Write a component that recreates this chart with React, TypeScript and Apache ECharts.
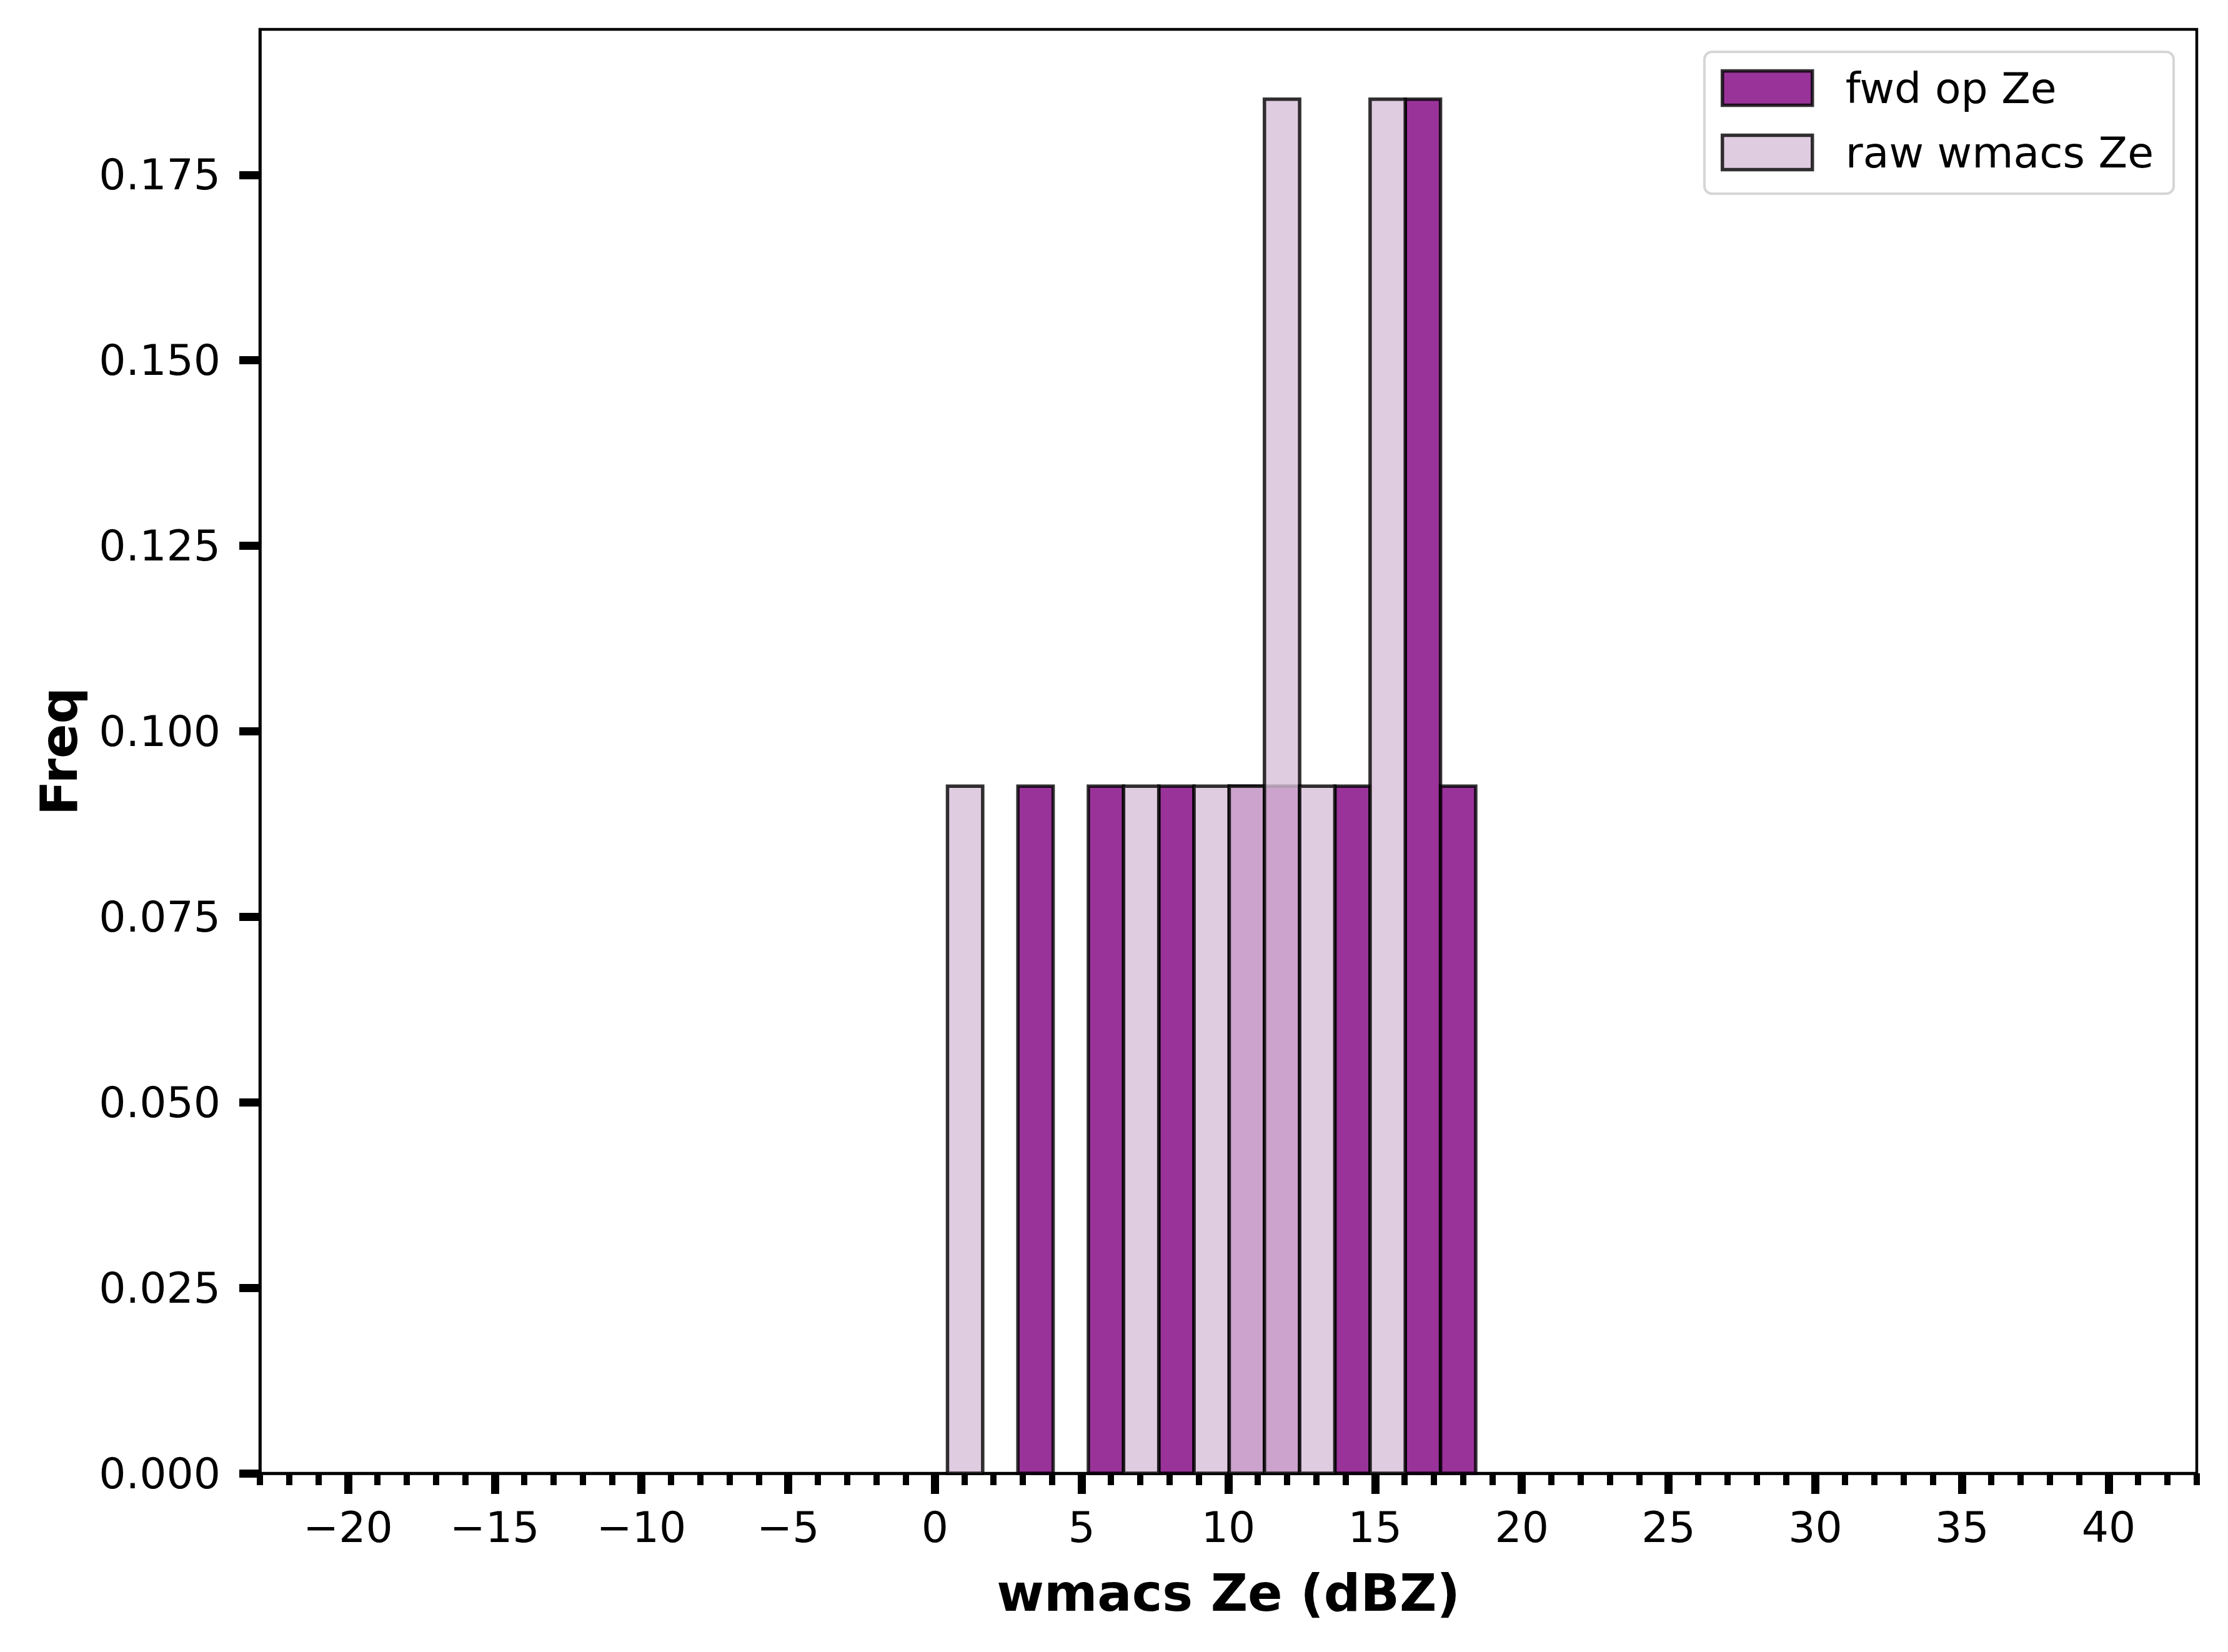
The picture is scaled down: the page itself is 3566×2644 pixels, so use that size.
import React, { useEffect, useRef } from "react";
import * as echarts from "echarts";

// Histogram bins (left edge, dBZ) and normalized frequencies
const binWidth = 1.2;
const fwdBinLeft = [2.83, 5.23, 7.63, 10.03, 11.23, 13.63, 16.03, 17.23];
const fwdFreq = [0.0926, 0.0926, 0.0926, 0.0926, 0.0926, 0.0926, 0.1852, 0.0926];
const rawBinLeft = [0.43, 6.43, 8.83, 10.03, 11.23, 12.43, 14.83];
const rawFreq = [0.0926, 0.0926, 0.0926, 0.0926, 0.1852, 0.0926, 0.1852];

const xMajorTicks = [-20, -15, -10, -5, 0, 5, 10, 15, 20, 25, 30, 35, 40];
const xMinorTicks = [
  -23, -22, -21, -19, -18, -17, -16, -14, -13, -12, -11, -9, -8, -7, -6, -4, -3, -2, -1,
  1, 2, 3, 4, 6, 7, 8, 9, 11, 12, 13, 14, 16, 17, 18, 19, 21, 22, 23, 24, 26, 27, 28, 29,
  31, 32, 33, 34, 36, 37, 38, 39, 41, 42, 43,
];
const yTicks = [0, 0.025, 0.05, 0.075, 0.1, 0.125, 0.15, 0.175];

const seriesNames = ["fwd op Ze", "raw wmacs Ze"];
const FONT = "DejaVu Sans";
const FWD_FILL = "rgba(128,0,128,0.8)";
const RAW_FILL = "rgba(216,191,216,0.8)";
const EDGE = "rgba(0,0,0,0.8)";
const EDGE_W = 5.5;

function makeSeries(name: string, lefts: number[], freqs: number[], fill: string, z: number) {
  return {
    type: "custom",
    name,
    z,
    xAxisIndex: 0,
    yAxisIndex: 0,
    itemStyle: { color: fill, borderColor: EDGE, borderWidth: EDGE_W },
    encode: { x: [0, 1], y: 2 },
    data: lefts.map((l, i) => [l, l + binWidth, freqs[i]]),
    renderItem: (params: any, api: any) => {
      const p0 = api.coord([api.value(0), api.value(2)]);
      const p1 = api.coord([api.value(1), 0]);
      return {
        type: "rect",
        shape: { x: p0[0], y: p0[1], width: p1[0] - p0[0], height: p1[1] - p0[1] },
        style: { fill, stroke: EDGE, lineWidth: EDGE_W },
      };
    },
  };
}

export default function App() {
  const ref = useRef<HTMLDivElement>(null);
  useEffect(() => {
    if (!ref.current) return;
    const chart = echarts.init(ref.current, null, { renderer: "svg" });
    const xMin = -23;
    const xMax = 43;
    chart.setOption({
      animation: false,
      backgroundColor: "#ffffff",
      textStyle: { fontFamily: FONT },
      grid: {
        left: 416,
        right: 50,
        top: 47,
        bottom: 286,
        show: true,
        borderColor: "#000",
        borderWidth: 4.5,
        backgroundColor: "transparent",
      },
      legend: {
        left: 2728,
        top: 83,
        orient: "vertical",
        itemWidth: 144,
        itemHeight: 55,
        itemGap: 35,
        padding: [24, 32, 32, 26],
        backgroundColor: "rgba(255,255,255,0.8)",
        borderColor: "#d6d6d6",
        borderWidth: 4,
        borderRadius: 12,
        textStyle: { fontFamily: FONT, fontSize: 68, color: "#000", padding: [0, 0, 0, 48] },
        data: [
          { name: seriesNames[0], icon: "rect", itemStyle: { color: FWD_FILL, borderColor: EDGE, borderWidth: EDGE_W } },
          { name: seriesNames[1], icon: "rect", itemStyle: { color: RAW_FILL, borderColor: EDGE, borderWidth: EDGE_W } },
        ],
      },
      xAxis: [
        {
          type: "value",
          min: xMin,
          max: xMax,
          position: "bottom",
          name: "wmacs Ze (dBZ)",
          nameLocation: "middle",
          nameGap: 150,
          nameTextStyle: { fontFamily: FONT, fontSize: 82, fontWeight: "bold", color: "#000" },
          axisLine: { show: true, onZero: false, lineStyle: { color: "#000", width: 4.5 } },
          axisTick: {
            show: true,
            inside: false,
            length: 33,
            customValues: xMajorTicks,
            lineStyle: { color: "#000", width: 13 },
          },
          axisLabel: {
            show: true,
            customValues: xMajorTicks,
            margin: 52,
            fontFamily: FONT,
            fontSize: 68,
            color: "#000",
            formatter: (v: number) => String(v).replace("-", "\u2212"),
          },
          splitLine: { show: false },
        },
        {
          type: "value",
          min: xMin,
          max: xMax,
          position: "bottom",
          offset: 0,
          axisLine: { show: false, onZero: false },
          axisTick: {
            show: true,
            inside: false,
            length: 19,
            customValues: xMinorTicks,
            lineStyle: { color: "#000", width: 10 },
          },
          axisLabel: { show: false },
          splitLine: { show: false },
        },
      ],
      yAxis: {
        type: "value",
        min: 0,
        max: 0.1946,
        position: "left",
        name: "Freq",
        nameLocation: "middle",
        nameRotate: 90,
        nameGap: 281,
        nameTextStyle: { fontFamily: FONT, fontSize: 82, fontWeight: "bold", color: "#000" },
        axisLine: { show: true, onZero: false, lineStyle: { color: "#000", width: 4.5 } },
        axisTick: {
          show: true,
          inside: false,
          length: 33,
          customValues: yTicks,
          lineStyle: { color: "#000", width: 13 },
        },
        axisLabel: {
          show: true,
          customValues: yTicks,
          margin: 63,
          fontFamily: FONT,
          fontSize: 68,
          color: "#000",
          formatter: (v: number) => v.toFixed(3),
        },
        splitLine: { show: false },
      },
      series: [
        makeSeries(seriesNames[0], fwdBinLeft, fwdFreq, FWD_FILL, 2),
        makeSeries(seriesNames[1], rawBinLeft, rawFreq, RAW_FILL, 3),
      ],
    });
    return () => chart.dispose();
  }, []);
  return (
    <div
      ref={ref}
      style={{ position: "fixed", left: 0, top: 0, width: 3566, height: 2644, background: "#fff" }}
    />
  );
}
